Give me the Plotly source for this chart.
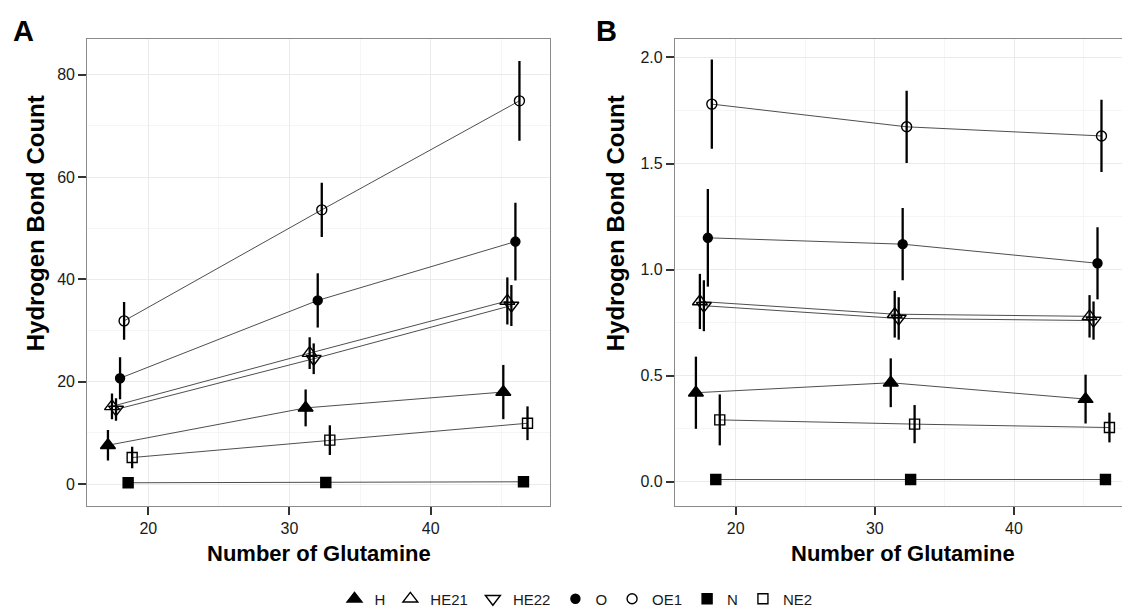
import plotly.graph_objects as go

# ---------------- data ----------------
glutamine = [18, 32, 46]
atoms = ["H", "HE21", "HE22", "O", "OE1", "N", "NE2"]

# Panel A: total hydrogen bond count
a_H = [7.6, 14.9, 18.0]
a_H_err = [3.0, 3.6, 5.3]
a_HE21 = [15.2, 25.6, 35.8]
a_HE21_err = [2.5, 3.1, 4.6]
a_HE22 = [14.6, 24.5, 34.9]
a_HE22_err = [2.2, 3.0, 4.0]
a_O = [20.7, 35.9, 47.4]
a_O_err = [4.1, 5.3, 7.6]
a_OE1 = [31.9, 53.6, 74.9]
a_OE1_err = [3.7, 5.3, 7.8]
a_N = [0.27, 0.33, 0.46]
a_N_err = [0.2, 0.2, 0.25]
a_NE2 = [5.2, 8.6, 11.9]
a_NE2_err = [2.1, 2.9, 3.3]

# Panel B: per-glutamine hydrogen bond count
b_H = [0.42, 0.467, 0.39]
b_H_err = [0.17, 0.115, 0.115]
b_HE21 = [0.85, 0.79, 0.78]
b_HE21_err = [0.13, 0.11, 0.10]
b_HE22 = [0.83, 0.77, 0.76]
b_HE22_err = [0.12, 0.10, 0.09]
b_O = [1.15, 1.12, 1.03]
b_O_err = [0.23, 0.17, 0.17]
b_OE1 = [1.78, 1.673, 1.63]
b_OE1_err = [0.21, 0.17, 0.17]
b_N = [0.011, 0.011, 0.011]
b_N_err = [0.005, 0.005, 0.005]
b_NE2 = [0.292, 0.272, 0.256]
b_NE2_err = [0.12, 0.09, 0.07]

x_ticks = [20, 30, 40]
a_y_ticks = [0, 20, 40, 60, 80]
b_y_ticks = [0.0, 0.5, 1.0, 1.5, 2.0]
b_y_labels = ["0.0", "0.5", "1.0", "1.5", "2.0"]

panel_a = {"H": (a_H, a_H_err), "HE21": (a_HE21, a_HE21_err), "HE22": (a_HE22, a_HE22_err),
           "O": (a_O, a_O_err), "OE1": (a_OE1, a_OE1_err), "N": (a_N, a_N_err),
           "NE2": (a_NE2, a_NE2_err)}
panel_b = {"H": (b_H, b_H_err), "HE21": (b_HE21, b_HE21_err), "HE22": (b_HE22, b_HE22_err),
           "O": (b_O, b_O_err), "OE1": (b_OE1, b_OE1_err), "N": (b_N, b_N_err),
           "NE2": (b_NE2, b_NE2_err)}

# ---------------- style ----------------
symbols = {"H": "triangle-up", "HE21": "triangle-up-open", "HE22": "triangle-down-open",
           "O": "circle", "OE1": "circle-open", "N": "square", "NE2": "square-open"}
sizes = {"H": 13, "HE21": 13, "HE22": 13, "O": 9, "OE1": 10, "N": 10, "NE2": 10}
dodge_width = 2.0
n = len(atoms)
offsets = {a: (i - (n - 1) / 2) * dodge_width / n for i, a in enumerate(atoms)}

FONT = "Liberation Sans, Arial, sans-serif"
fig = go.Figure()

for panel, (xa, ya) in ((panel_a, ("x", "y")), (panel_b, ("x2", "y2"))):
    for a in atoms:
        vals, errs = panel[a]
        xs = [g + offsets[a] for g in glutamine]
        fig.add_trace(go.Scatter(
            x=xs, y=vals, mode="lines", xaxis=xa, yaxis=ya,
            line=dict(color="#3a3a3a", width=0.9), showlegend=False, hoverinfo="skip"))
    for a in atoms:
        vals, errs = panel[a]
        xs = [g + offsets[a] for g in glutamine]
        fig.add_trace(go.Scatter(
            x=xs, y=vals, mode="markers", xaxis=xa, yaxis=ya, name=a,
            legendgroup=a, showlegend=(xa == "x"),
            marker=dict(symbol=symbols[a], size=sizes[a], color="black",
                        line=dict(color="black", width=1.4)),
            error_y=dict(type="data", array=errs, visible=True, width=0,
                         thickness=2.3, color="black")))

grid = "#EBEBEB"
minor_grid = "#F5F5F5"
axis_common = dict(ticks="outside", ticklen=8, tickwidth=2, tickcolor="#333333",
                   showgrid=True, gridcolor=grid, gridwidth=1, zeroline=False,
                   linecolor="#8a8a8a", linewidth=1.2,
                   tickfont=dict(family=FONT, size=16, color="#1a1a1a"))

title_font = dict(family=FONT, size=22, color="black")
ytitle_font = dict(family=FONT, size=24, color="black")

fig.update_layout(
    width=1122, height=616, plot_bgcolor="white", paper_bgcolor="white",
    margin=dict(l=0, r=0, t=0, b=0),
    xaxis=dict(domain=[87.3 / 1122, 550 / 1122], range=[15.68, 48.45], tickvals=x_ticks,
               showline=True, mirror=True, anchor="y",
               minor=dict(dtick=5, tick0=0, showgrid=True, gridcolor=minor_grid),
               **axis_common),
    yaxis=dict(domain=[108.3 / 616, 576.7 / 616], range=[-4.28, 86.95], tickvals=a_y_ticks,
               showline=True, mirror=True, anchor="x",
               minor=dict(dtick=10, tick0=0, showgrid=True, gridcolor=minor_grid),
               **axis_common),
    xaxis2=dict(domain=[675 / 1122, 1.0], range=[15.64, 47.76], tickvals=x_ticks,
                showline=True, mirror=True, anchor="y2",
                minor=dict(dtick=5, tick0=0, showgrid=True, gridcolor=minor_grid),
                **axis_common),
    yaxis2=dict(domain=[108.3 / 616, 576.7 / 616], range=[-0.114, 2.086],
                tickvals=b_y_ticks, ticktext=b_y_labels,
                showline=True, mirror=False, anchor="x2",
                minor=dict(dtick=0.25, tick0=0, showgrid=True, gridcolor=minor_grid),
                **axis_common),
    legend=dict(orientation="h", x=576 / 1122, xanchor="center", y=1 - 601 / 616,
                yanchor="middle", font=dict(family=FONT, size=15, color="#1a1a1a"),
                itemwidth=30, tracegroupgap=0, bgcolor="rgba(0,0,0,0)"),
    annotations=[
        dict(text="<b>A</b>", x=11 / 1122, y=1 - 31 / 616, xref="paper", yref="paper",
             xanchor="left", yanchor="middle", showarrow=False,
             font=dict(family=FONT, size=29, color="black")),
        dict(text="<b>B</b>", x=594 / 1122, y=1 - 31 / 616, xref="paper", yref="paper",
             xanchor="left", yanchor="middle", showarrow=False,
             font=dict(family=FONT, size=29, color="black")),
        dict(text="<b>Hydrogen Bond Count</b>", x=35 / 1122, y=1 - 224 / 616,
             xref="paper", yref="paper", xanchor="center", yanchor="middle",
             textangle=-90, showarrow=False, font=ytitle_font),
        dict(text="<b>Hydrogen Bond Count</b>", x=615 / 1122, y=1 - 224 / 616,
             xref="paper", yref="paper", xanchor="center", yanchor="middle",
             textangle=-90, showarrow=False, font=ytitle_font),
        dict(text="<b>Number of Glutamine</b>", x=318.6 / 1122, y=1 - 555 / 616,
             xref="paper", yref="paper", xanchor="center", yanchor="middle",
             showarrow=False, font=title_font),
        dict(text="<b>Number of Glutamine</b>", x=903 / 1122, y=1 - 555 / 616,
             xref="paper", yref="paper", xanchor="center", yanchor="middle",
             showarrow=False, font=title_font),
    ],
)

fig.write_html("out.html")
